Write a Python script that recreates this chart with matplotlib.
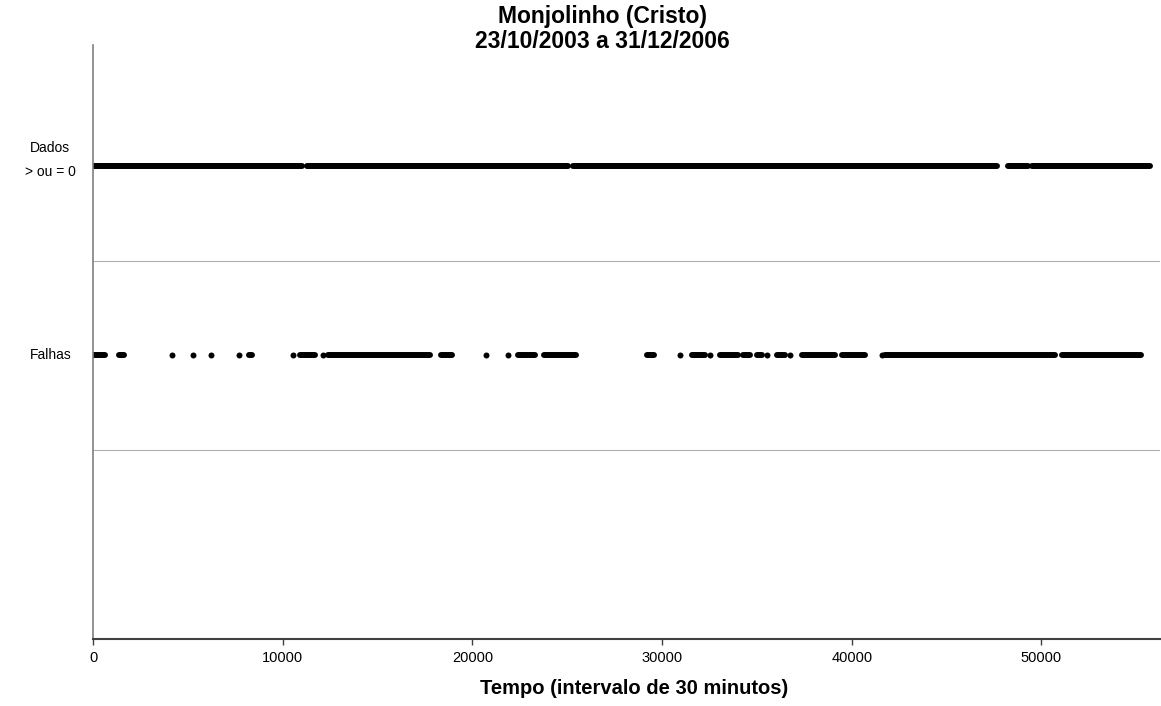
import numpy as np
import matplotlib
matplotlib.use("Agg")
import matplotlib.pyplot as plt
import matplotlib.transforms as mtransforms

plt.rcParams['font.family'] = ['Liberation Sans', 'DejaVu Sans']

# intervals (start, end) in 30-min steps where data exists (>= 0)
dados_start = [0, 11280, 25300, 48220, 49480]
dados_end = [11000, 25030, 47640, 49270, 55700]

# failure runs (start, end); single failures have start == end
falhas_start = [0, 1370, 4160, 5270, 6220, 7690, 8200, 10540, 10900, 12120,
                12400, 18330, 20700, 21870, 22400, 23770, 29200, 30930, 31600,
                32520, 33050, 34250, 34990, 35520, 36050, 36730, 37360, 39470,
                41580, 41740, 51100]
falhas_end = [630, 1630, 4160, 5270, 6220, 7690, 8400, 10540, 11700, 12120,
              17750, 18900, 20700, 21870, 23300, 25450, 29600, 30930, 32250,
              32520, 34000, 34620, 35260, 35520, 36470, 36730, 39100, 40680,
              41580, 50700, 55230]

y_dados = 2.5
y_falhas = 1.5

fig = plt.figure(figsize=(11.61, 7.06), dpi=100)
ax = fig.add_axes([93 / 1161, 67 / 706, 1067 / 1161, 594 / 706])

lw = 4.3
for s, e in zip(dados_start, dados_end):
    ax.plot([s, e], [y_dados, y_dados], color='black', lw=lw,
            solid_capstyle='round')
for s, e in zip(falhas_start, falhas_end):
    if s == e:
        ax.plot([s], [y_falhas], 'o', color='black', ms=lw, mew=0)
    else:
        ax.plot([s, e], [y_falhas, y_falhas], color='black', lw=lw,
                solid_capstyle='round')

for g in [1, 2]:
    ax.axhline(g, color='#b0b0b0', lw=0.8, zorder=0)

ax.set_xlim(0, 56250)
ax.set_ylim(0, 3.14)
ax.set_xticks([0, 10000, 20000, 30000, 40000, 50000])
ax.tick_params(axis='x', direction='out', length=4, width=1, color='#404040',
               labelsize=10.5, pad=5)
ax.set_yticks([])

ax.spines['top'].set_visible(False)
ax.spines['right'].set_visible(False)
ax.spines['left'].set_color('#808080')
ax.spines['left'].set_linewidth(1.2)
ax.spines['bottom'].set_color('#404040')
ax.spines['bottom'].set_linewidth(1.5)

trans = mtransforms.blended_transform_factory(ax.transAxes, ax.transData)
ax.text(-0.04, y_dados + 0.03, 'Dados\n> ou = 0', transform=trans,
        ha='center', va='center', multialignment='center', fontsize=10,
        linespacing=1.9)
ax.text(-0.04, y_falhas, 'Falhas', transform=trans, ha='center',
        va='center', fontsize=10)

fig.text(602 / 1161, 1 - 17 / 706, 'Monjolinho (Cristo)', ha='center',
         va='center', fontsize=16.5, fontweight='bold')
fig.text(602 / 1161, 1 - 41 / 706, '23/10/2003 a 31/12/2006', ha='center',
         va='center', fontsize=16.5, fontweight='bold')
fig.text(634 / 1161, 1 - 688 / 706, 'Tempo (intervalo de 30 minutos)',
         ha='center', va='center', fontsize=14.5, fontweight='bold')

fig.savefig('out.png', dpi=100)
